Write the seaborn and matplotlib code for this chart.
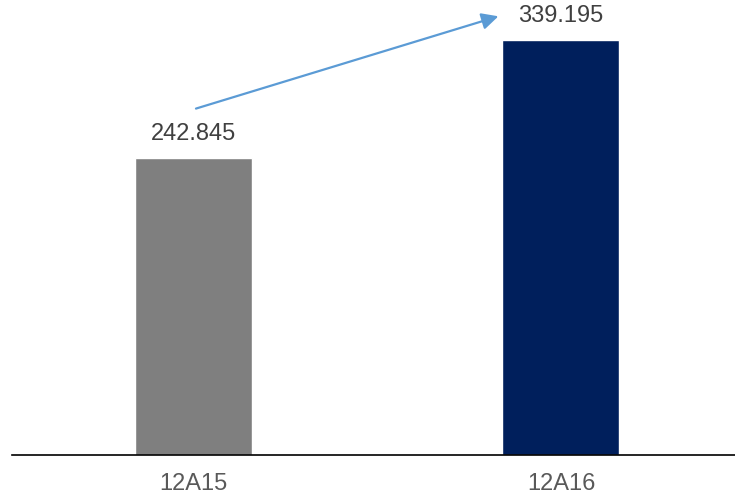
import matplotlib
matplotlib.use('Agg')
import matplotlib.pyplot as plt
import seaborn as sns
import pandas as pd

# data
periods = ['12A15', '12A16']
values = [242.845, 339.195]
labels = ['242.845', '339.195']
colors = ['#7f7f7f', '#001f5c']

df = pd.DataFrame({'periodo': periods, 'valor': values})

sns.set_style('white')
plt.rcParams['font.family'] = ['Liberation Sans', 'DejaVu Sans']

fig = plt.figure(figsize=(7.35, 5.01), dpi=100)
ax = fig.add_axes([12 / 735, 46 / 501, 723 / 735, 455 / 501])

sns.barplot(data=df, x='periodo', y='valor', hue='periodo', palette=colors,
            width=0.318, legend=False, ax=ax, saturation=1)

ax.set_xlim(-0.492, 1.473)
ax.set_ylim(0, 371.5)

# value labels
for i, (v, lab) in enumerate(zip(values, labels)):
    ax.annotate(lab, (i, v), xytext=(0, 9), textcoords='offset points',
                ha='center', va='bottom', fontsize=17, color='#404040')

# growth arrow
ax.annotate('', xy=(0.83, values[1] + 19), xytext=(0.008, values[0] + 40),
            arrowprops=dict(arrowstyle='-|>', color='#5b9bd5', lw=1.6,
                            mutation_scale=25, shrinkA=0, shrinkB=0))

sns.despine(ax=ax, left=True, top=True, right=True)
ax.spines['bottom'].set_color('#000000')
ax.spines['bottom'].set_linewidth(1.2)
ax.set_yticks([])
ax.set_xlabel('')
ax.set_ylabel('')
ax.tick_params(axis='x', length=0, labelsize=17, labelcolor='#595959', pad=13)

fig.savefig('out.png', dpi=100)
